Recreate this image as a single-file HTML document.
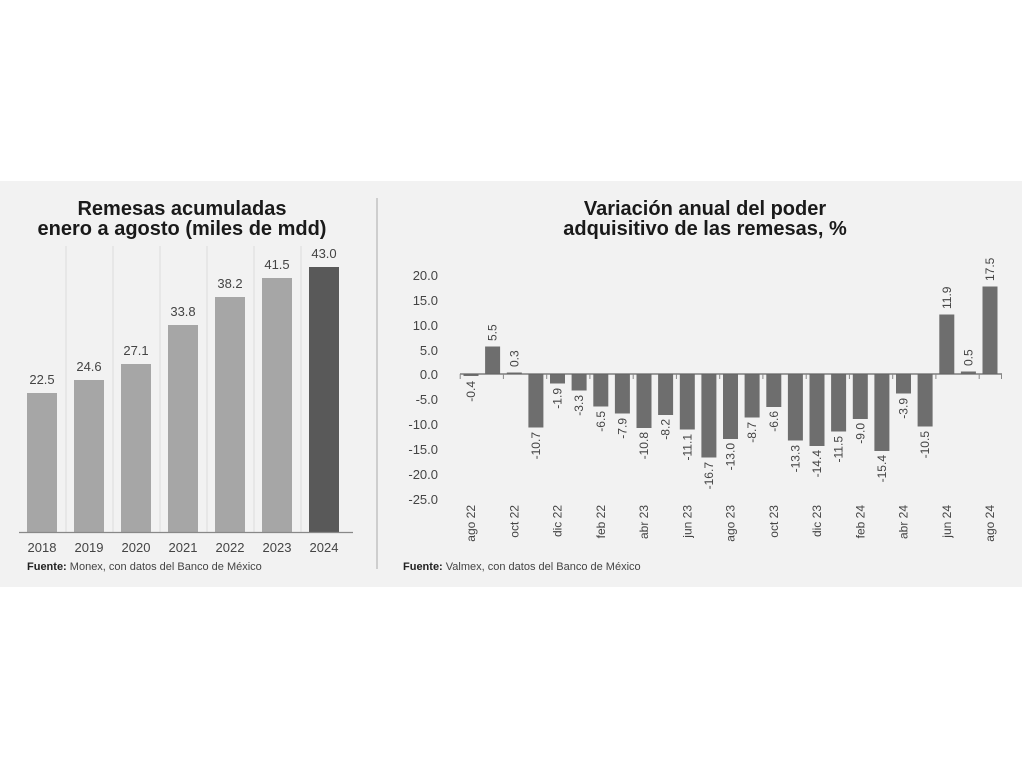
<!DOCTYPE html>
<html><head><meta charset="utf-8"><style>
html,body{margin:0;padding:0;background:#fff;}
svg{display:block;}
text{font-family:"Liberation Sans Narrow","Liberation Sans",sans-serif;}
</style></head><body>
<svg width="1024" height="768" viewBox="0 0 1024 768" xmlns="http://www.w3.org/2000/svg">
<rect x="0" y="181" width="1022" height="406" fill="#f2f2f2"/>
<line x1="377" y1="198" x2="377" y2="569" stroke="#aaa" stroke-width="1"/>
<!-- Left chart -->
<g font-family="Liberation Sans" font-weight="bold" font-size="20" fill="#1a1a1a" text-anchor="middle">
<text x="182" y="215">Remesas acumuladas</text>
<text x="182" y="235">enero a agosto (miles de mdd)</text>
</g>
<g stroke="#dcdcdc" stroke-width="1">
<line x1="66" y1="246" x2="66" y2="532"/><line x1="113" y1="246" x2="113" y2="532"/>
<line x1="160" y1="246" x2="160" y2="532"/><line x1="207" y1="246" x2="207" y2="532"/>
<line x1="254" y1="246" x2="254" y2="532"/><line x1="301" y1="246" x2="301" y2="532"/>
</g>
<g fill="#a6a6a6">
<rect x="27" y="393" width="30" height="139"/>
<rect x="74" y="380" width="30" height="152"/>
<rect x="121" y="364" width="30" height="168"/>
<rect x="168" y="325" width="30" height="207"/>
<rect x="215" y="297" width="30" height="235"/>
<rect x="262" y="278" width="30" height="254"/>
<rect x="309" y="267" width="30" height="265" fill="#595959"/>
</g>
<line x1="19" y1="532.5" x2="353" y2="532.5" stroke="#888" stroke-width="1.2"/>
<g font-size="13" fill="#444" text-anchor="middle">
<text x="42" y="384">22.5</text><text x="89" y="371">24.6</text><text x="136" y="355">27.1</text>
<text x="183" y="316">33.8</text><text x="230" y="288">38.2</text><text x="277" y="269">41.5</text>
<text x="324" y="258">43.0</text>
<text x="42" y="552">2018</text><text x="89" y="552">2019</text><text x="136" y="552">2020</text>
<text x="183" y="552">2021</text><text x="230" y="552">2022</text><text x="277" y="552">2023</text>
<text x="324" y="552">2024</text>
</g>
<text x="27" y="570" font-size="11" fill="#444"><tspan font-weight="bold" fill="#222">Fuente:</tspan> Monex, con datos del Banco de México</text>

<!-- Right chart -->
<g font-family="Liberation Sans" font-weight="bold" font-size="20" fill="#1a1a1a" text-anchor="middle">
<text x="705" y="215">Variación anual del poder</text>
<text x="705" y="235">adquisitivo de las remesas, %</text>
</g>
<g font-size="13" fill="#444" text-anchor="end">
<text x="438" y="280">20.0</text><text x="438" y="305">15.0</text><text x="438" y="330">10.0</text>
<text x="438" y="355">5.0</text><text x="438" y="379">0.0</text><text x="438" y="404">-5.0</text>
<text x="438" y="429">-10.0</text><text x="438" y="454">-15.0</text><text x="438" y="479">-20.0</text>
<text x="438" y="504">-25.0</text>
</g>
<g fill="#6e6e6e">
<rect x="463.5" y="374" width="15" height="2"/>
<rect x="485.1" y="346.5" width="15" height="27.5"/>
<rect x="506.8" y="372.5" width="15" height="1.5"/>
<rect x="528.4" y="374" width="15" height="53.5"/>
<rect x="550" y="374" width="15" height="9.5"/>
<rect x="571.6" y="374" width="15" height="16.5"/>
<rect x="593.3" y="374" width="15" height="32.5"/>
<rect x="614.9" y="374" width="15" height="39.5"/>
<rect x="636.5" y="374" width="15" height="54"/>
<rect x="658.1" y="374" width="15" height="41"/>
<rect x="679.8" y="374" width="15" height="55.5"/>
<rect x="701.4" y="374" width="15" height="83.5"/>
<rect x="723" y="374" width="15" height="65"/>
<rect x="744.6" y="374" width="15" height="43.5"/>
<rect x="766.3" y="374" width="15" height="33"/>
<rect x="787.9" y="374" width="15" height="66.5"/>
<rect x="809.5" y="374" width="15" height="72"/>
<rect x="831.1" y="374" width="15" height="57.5"/>
<rect x="852.8" y="374" width="15" height="45"/>
<rect x="874.4" y="374" width="15" height="77"/>
<rect x="896" y="374" width="15" height="19.5"/>
<rect x="917.6" y="374" width="15" height="52.5"/>
<rect x="939.3" y="314.5" width="15" height="59.5"/>
<rect x="960.9" y="371.5" width="15" height="2.5"/>
<rect x="982.5" y="286.5" width="15" height="87.5"/>
</g>
<line x1="460" y1="374" x2="1002" y2="374" stroke="#666" stroke-width="1.2"/>
<g stroke="#888" stroke-width="1">
<line x1="460.2" y1="374" x2="460.2" y2="379"/><line x1="503.4" y1="374" x2="503.4" y2="379"/>
<line x1="546.7" y1="374" x2="546.7" y2="379"/><line x1="589.9" y1="374" x2="589.9" y2="379"/>
<line x1="633.2" y1="374" x2="633.2" y2="379"/><line x1="676.4" y1="374" x2="676.4" y2="379"/>
<line x1="719.7" y1="374" x2="719.7" y2="379"/><line x1="762.9" y1="374" x2="762.9" y2="379"/>
<line x1="806.2" y1="374" x2="806.2" y2="379"/><line x1="849.4" y1="374" x2="849.4" y2="379"/>
<line x1="892.7" y1="374" x2="892.7" y2="379"/><line x1="935.9" y1="374" x2="935.9" y2="379"/>
<line x1="979.2" y1="374" x2="979.2" y2="379"/><line x1="1001.5" y1="374" x2="1001.5" y2="379"/>
</g>
<g font-size="12" fill="#444">
<g text-anchor="end">
<text transform="translate(471,381) rotate(-90)" y="4">-0.4</text>
<text transform="translate(535.9,432) rotate(-90)" y="4">-10.7</text>
<text transform="translate(557.5,388) rotate(-90)" y="4">-1.9</text>
<text transform="translate(579.1,395) rotate(-90)" y="4">-3.3</text>
<text transform="translate(600.8,411) rotate(-90)" y="4">-6.5</text>
<text transform="translate(622.4,418) rotate(-90)" y="4">-7.9</text>
<text transform="translate(644,432) rotate(-90)" y="4">-10.8</text>
<text transform="translate(665.6,419) rotate(-90)" y="4">-8.2</text>
<text transform="translate(687.3,434) rotate(-90)" y="4">-11.1</text>
<text transform="translate(708.9,462) rotate(-90)" y="4">-16.7</text>
<text transform="translate(730.5,443) rotate(-90)" y="4">-13.0</text>
<text transform="translate(752.1,422) rotate(-90)" y="4">-8.7</text>
<text transform="translate(773.8,411) rotate(-90)" y="4">-6.6</text>
<text transform="translate(795.4,445) rotate(-90)" y="4">-13.3</text>
<text transform="translate(817,450) rotate(-90)" y="4">-14.4</text>
<text transform="translate(838.6,436) rotate(-90)" y="4">-11.5</text>
<text transform="translate(860.3,423) rotate(-90)" y="4">-9.0</text>
<text transform="translate(881.9,455) rotate(-90)" y="4">-15.4</text>
<text transform="translate(903.5,398) rotate(-90)" y="4">-3.9</text>
<text transform="translate(925.1,431) rotate(-90)" y="4">-10.5</text>
<text transform="translate(471,505) rotate(-90)" y="4">ago 22</text>
<text transform="translate(514.3,505) rotate(-90)" y="4">oct 22</text>
<text transform="translate(557.5,505) rotate(-90)" y="4">dic 22</text>
<text transform="translate(600.8,505) rotate(-90)" y="4">feb 22</text>
<text transform="translate(644,505) rotate(-90)" y="4">abr 23</text>
<text transform="translate(687.3,505) rotate(-90)" y="4">jun 23</text>
<text transform="translate(730.5,505) rotate(-90)" y="4">ago 23</text>
<text transform="translate(773.8,505) rotate(-90)" y="4">oct 23</text>
<text transform="translate(817,505) rotate(-90)" y="4">dic 23</text>
<text transform="translate(860.3,505) rotate(-90)" y="4">feb 24</text>
<text transform="translate(903.5,505) rotate(-90)" y="4">abr 24</text>
<text transform="translate(946.8,505) rotate(-90)" y="4">jun 24</text>
<text transform="translate(990,505) rotate(-90)" y="4">ago 24</text>
</g>
<g text-anchor="start">
<text transform="translate(492.6,341) rotate(-90)" y="4">5.5</text>
<text transform="translate(514.3,367) rotate(-90)" y="4">0.3</text>
<text transform="translate(946.8,309) rotate(-90)" y="4">11.9</text>
<text transform="translate(968.4,366) rotate(-90)" y="4">0.5</text>
<text transform="translate(990,281) rotate(-90)" y="4">17.5</text>
</g>
</g>
<text x="403" y="570" font-size="11" fill="#444"><tspan font-weight="bold" fill="#222">Fuente:</tspan> Valmex, con datos del Banco de México</text>
</svg>
</body></html>
